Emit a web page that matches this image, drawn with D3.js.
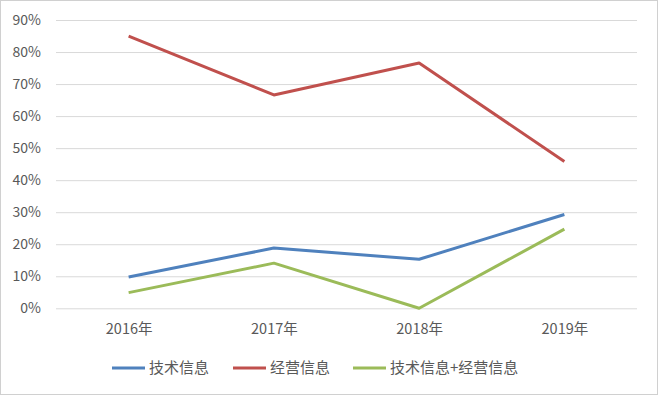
<!DOCTYPE html>
<html><head><meta charset="utf-8">
<script src="https://cdn.jsdelivr.net/npm/d3@7"></script>
<style>body{margin:0;background:#fff}svg{display:block}</style>
</head><body>
<svg id="c" width="658" height="395"></svg>
<script>
const categories = ["2016年","2017年","2018年","2019年"];
const seriesNames = ["技术信息","经营信息","技术信息+经营信息"];
const tech = [9.8, 18.8, 15.3, 29.3];
const business = [85.0, 66.6, 76.6, 45.8];
const both = [4.9, 14.1, 0.0, 24.7];
const yTicks = [0,10,20,30,40,50,60,70,80,90];
const colors = ["#4F81BD","#C0504D","#9BBB59"];
const series = [tech, business, both];

const svg = d3.select("#c");
const font = "'Noto Sans CJK SC','Noto Sans',sans-serif";
svg.append("rect").attr("x",0.5).attr("y",0.5).attr("width",657).attr("height",394)
  .attr("fill","#fff").attr("stroke","#D0D0D0");

const x = d3.scalePoint().domain(categories).range([56,637]).padding(0.5);
const y = d3.scaleLinear().domain([0,90]).range([308.3,20]);

const gy = svg.append("g").attr("transform","translate(56,0)")
  .call(d3.axisLeft(y).tickValues(yTicks).tickFormat(d=>d+"%").tickSize(-581).tickPadding(15));
gy.select(".domain").remove();
gy.selectAll("line").attr("stroke","#D9D9D9");
gy.selectAll("text").attr("fill","#595959").style("font-family",font).style("font-size","14px");

const gx = svg.append("g").attr("transform","translate(0,308.3)")
  .call(d3.axisBottom(x).tickSize(0).tickPadding(15));
gx.select(".domain").remove();
gx.selectAll("text").attr("fill","#595959").style("font-family",font).style("font-size","14.5px");

const line = d3.line().x((d,i)=>x(categories[i])).y(d=>y(d));
series.forEach((s,i)=>{
  svg.append("path").datum(s).attr("d",line).attr("fill","none")
    .attr("stroke",colors[i]).attr("stroke-width",3).attr("stroke-linejoin","round");
});

const legX = [112,233,353];
seriesNames.forEach((n,i)=>{
  const g = svg.append("g").attr("transform",`translate(${legX[i]},368)`);
  g.append("line").attr("x1",0).attr("x2",33).attr("stroke",colors[i]).attr("stroke-width",3);
  g.append("text").attr("x",37).attr("y",0).attr("dy","0.35em").text(n)
    .attr("fill","#595959").style("font-family",font).style("font-size","15px");
});
</script>
</body></html>
